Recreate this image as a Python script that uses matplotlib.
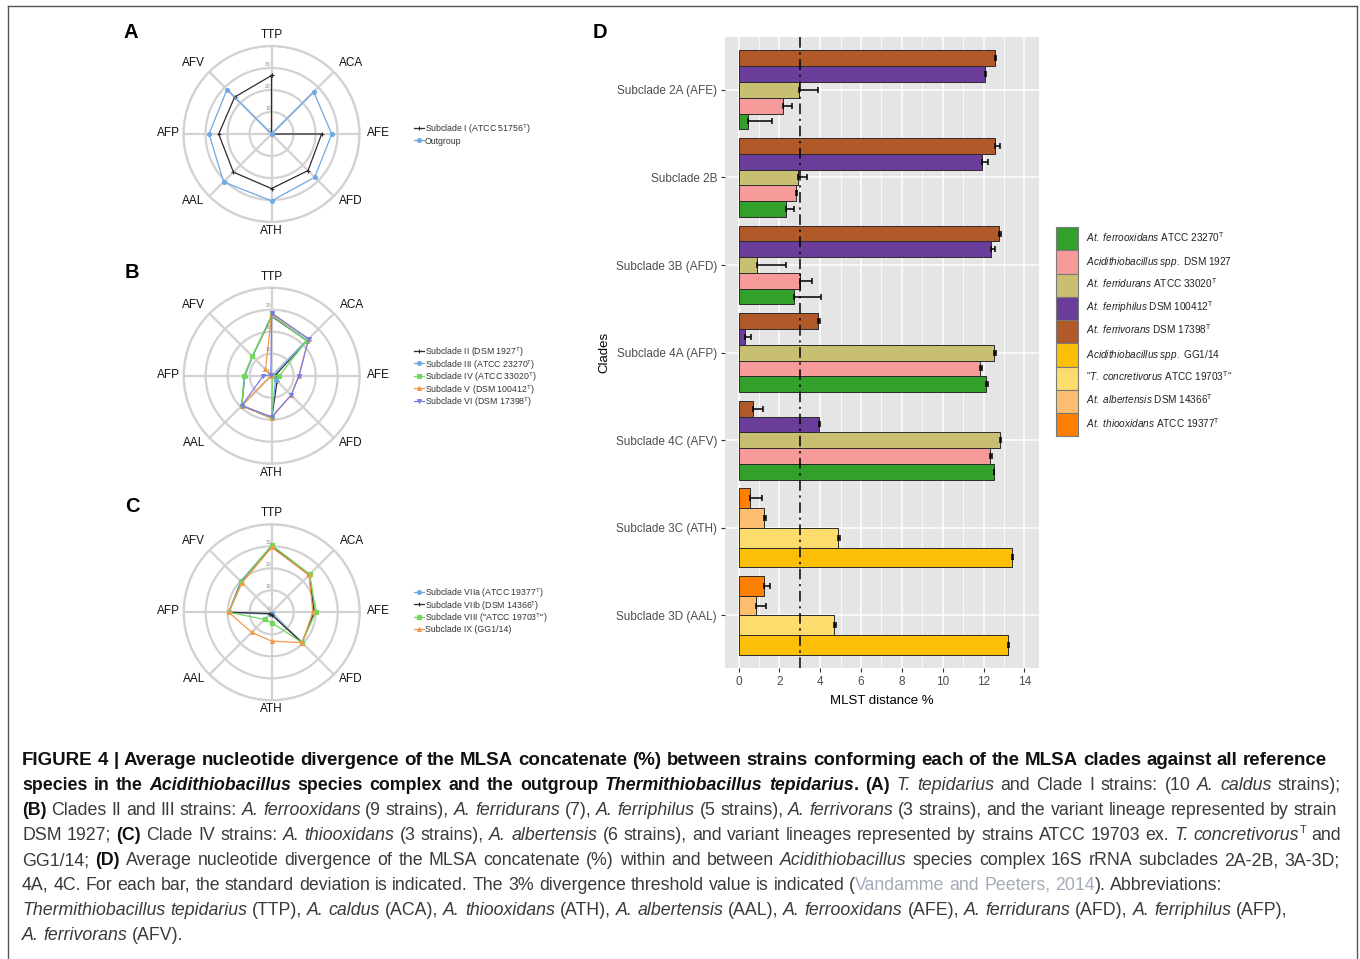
import numpy as np
import matplotlib
matplotlib.use('Agg')
import matplotlib.pyplot as plt
from matplotlib.patches import Patch
from matplotlib.lines import Line2D

plt.rcParams['font.family'] = 'Liberation Sans'
plt.rcParams['mathtext.fontset'] = 'custom'
plt.rcParams['mathtext.rm'] = 'Liberation Sans'
plt.rcParams['mathtext.it'] = 'Liberation Sans:italic'
plt.rcParams['mathtext.bf'] = 'Liberation Sans:bold'

# ---------------- radar data (order of spokes, clockwise from top) ----------------
spokes = ['TTP', 'ACA', 'AFE', 'AFD', 'ATH', 'AAL', 'AFP', 'AFV']

# panel A
a_labels = [r'Subclade I (ATCC 51756$^{\mathrm{T}}$)', 'Outgroup']
a_subclade_1 = [26.6, 0.0, 22.8, 23.5, 24.8, 24.5, 24.0, 23.7]
a_outgroup = [0.0, 27.1, 27.4, 27.8, 30.4, 30.8, 28.4, 28.6]

# panel B
b_labels = [r'Subclade II (DSM 1927$^{\mathrm{T}}$)', r'Subclade III (ATCC 23270$^{\mathrm{T}}$)',
            r'Subclade IV (ATCC 33020$^{\mathrm{T}}$)', r'Subclade V (DSM 100412$^{\mathrm{T}}$)',
            r'Subclade VI (DSM 17398$^{\mathrm{T}}$)']
b_subclade_2 = [27.0, 22.6, 1.5, 3.5, 19.3, 19.2, 12.3, 12.4]
b_subclade_3 = [27.3, 22.8, 0.5, 2.5, 19.3, 19.2, 12.2, 12.4]
b_subclade_4 = [27.5, 22.4, 3.5, 0.4, 19.2, 19.2, 12.6, 12.5]
b_subclade_5 = [28.0, 23.7, 12.3, 12.4, 19.2, 19.3, 0.5, 4.0]
b_subclade_6 = [28.5, 23.7, 12.5, 12.5, 18.7, 19.2, 3.8, 0.5]

# panel C
c_labels = [r'Subclade VIIa (ATCC 19377$^{\mathrm{T}}$)', r'Subclade VIIb (DSM 14366$^{\mathrm{T}}$)',
            r'Subclade VIII ("ATCC 19703$^{\mathrm{T}}$")', 'Subclade IX (GG1/14)']
c_subclade_7a = [30.3, 24.3, 19.5, 19.5, 0.5, 1.2, 19.5, 20.0]
c_subclade_7b = [30.0, 24.0, 19.3, 19.5, 1.2, 0.8, 19.5, 19.5]
c_subclade_8 = [30.5, 24.5, 20.0, 19.5, 4.7, 4.6, 19.5, 19.5]
c_subclade_9 = [29.5, 24.0, 18.7, 19.5, 13.1, 12.9, 19.5, 19.0]

# ---------------- bar chart data (panel D) ----------------
clades = ['Subclade 2A (AFE)', 'Subclade 2B', 'Subclade 3B (AFD)', 'Subclade 4A (AFP)',
          'Subclade 4C (AFV)', 'Subclade 3C (ATH)', 'Subclade 3D (AAL)']

# first five clades
ferrooxidans_mean = [0.44, 2.34, 2.69, 12.13, 12.51]
ferrooxidans_sd = [1.18, 0.38, 1.36, 0.08, 0.02]
dsm1927_mean = [2.15, 2.80, 3.03, 11.84, 12.33]
dsm1927_sd = [0.44, 0.05, 0.54, 0.08, 0.08]
ferridurans_mean = [2.98, 2.93, 0.92, 12.53, 12.82]
ferridurans_sd = [0.92, 0.40, 1.41, 0.08, 0.02]
ferriphilus_mean = [12.05, 11.95, 12.35, 0.33, 3.93]
ferriphilus_sd = [0.06, 0.28, 0.20, 0.26, 0.06]
ferrivorans_mean = [12.54, 12.56, 12.74, 3.90, 0.69]
ferrivorans_sd = [0.08, 0.25, 0.12, 0.07, 0.52]
# last two clades
gg114_mean = [13.38, 13.22]
gg114_sd = [0.07, 0.02]
concretivorus_mean = [4.87, 4.69]
concretivorus_sd = [0.10, 0.10]
albertensis_mean = [1.23, 0.85]
albertensis_sd = [0.10, 0.48]
thiooxidans_mean = [0.56, 1.26]
thiooxidans_sd = [0.57, 0.26]

threshold = 3.0

legend_labels = [
    r'$\mathit{At.\;ferrooxidans}$ ATCC 23270$^{\mathrm{T}}$',
    r'$\mathit{Acidithiobacillus\;spp.}$ DSM 1927',
    r'$\mathit{At.\;ferridurans}$ ATCC 33020$^{\mathrm{T}}$',
    r'$\mathit{At.\;ferriphilus}$ DSM 100412$^{\mathrm{T}}$',
    r'$\mathit{At.\;ferrivorans}$ DSM 17398$^{\mathrm{T}}$',
    r'$\mathit{Acidithiobacillus\;spp.}$ GG1/14',
    r'"$\mathit{T.\;concretivorus}$ ATCC 19703$^{\mathrm{T}}$"',
    r'$\mathit{At.\;albertensis}$ DSM 14366$^{\mathrm{T}}$',
    r'$\mathit{At.\;thiooxidans}$ ATCC 19377$^{\mathrm{T}}$',
]
legend_colors = ['#33a02c', '#f79a9a', '#c9bf72', '#6a3d9a', '#b15928',
                 '#fbbf07', '#fddc6e', '#fdbf6f', '#ff7f00']

W, H = 1360, 959
fig = plt.figure(figsize=(W / 100, H / 100), dpi=100)


def px_rect(x0, y0, w, h):
    return [x0 / W, 1 - (y0 + h) / H, w / W, h / H]


# frame around the figure
frame_kw = dict(color='#555555', lw=1.0, transform=fig.transFigure)
fig.add_artist(Line2D([8 / W, 8 / W], [0, 1 - 6 / H], **frame_kw))
fig.add_artist(Line2D([8 / W, 1356.5 / W], [1 - 6 / H, 1 - 6 / H], **frame_kw))
fig.add_artist(Line2D([1356.5 / W, 1356.5 / W], [0, 1 - 6 / H], **frame_kw))

# ---------------- radar panels ----------------
# label offsets from the centre, in pixels
label_dx = [0, 80, 107, 79, 0, -78, -103, -78]
label_dy = [-99, -71, -1, 67, 97, 67, -1, -71]
theta = np.deg2rad(np.arange(8) * 45)
theta_closed = np.append(theta, theta[0])


def radar(cx, cy, series, labels, colors, markers, leg_y):
    R = 88
    ax = fig.add_axes(px_rect(cx - R, cy - R, 2 * R, 2 * R), projection='polar')
    ax.set_theta_zero_location('N')
    ax.set_theta_direction(-1)
    ax.set_ylim(0, 40)
    ax.set_thetagrids(np.arange(8) * 45, [''] * 8)
    ax.set_rgrids([10, 20, 30, 40], [''] * 4)
    ax.grid(color='#d2d2d2', lw=1.6)
    ax.spines['polar'].set_color('#d2d2d2')
    ax.spines['polar'].set_linewidth(1.6)
    ax.set_facecolor('none')
    for name, dx, dy in zip(spokes, label_dx, label_dy):
        ax.text(0.5 + dx / (2 * R), 0.5 - dy / (2 * R), name, transform=ax.transAxes,
                ha='center', va='center', fontsize=8.5, color='#111111')
    for v in [0, 10, 20, 30]:
        ax.annotate(str(v), (0, v), xytext=(-0.5, 1.0), textcoords='offset points',
                    ha='right', va='bottom', fontsize=3.6, color='#8a8a8a')
    for vals, lab, col, mk, ly in zip(series, labels, colors, markers, leg_y):
        ax.plot(theta_closed, np.append(vals, vals[0]), color=col, lw=0.9,
                marker=mk, ms=2.8, mew=0.8, clip_on=False)
        # hand-placed legend entry
        fig.add_artist(Line2D([414 / W, 423.5 / W], [1 - ly / H] * 2, color=col, lw=0.9,
                              transform=fig.transFigure))
        fig.add_artist(Line2D([418.7 / W], [1 - ly / H], color=col, marker=mk, ms=2.8, mew=0.8,
                              transform=fig.transFigure))
        fig.text(425 / W, 1 - ly / H, lab, ha='left', va='center_baseline', fontsize=6.3,
                 color='#333333')
    return ax


radar(271.5, 134, [a_subclade_1, a_outgroup], a_labels, ['#2b2b2b', '#6fa8e6'], ['+', 'o'],
      [127.5, 140])
radar(271.7, 375.7, [b_subclade_2, b_subclade_3, b_subclade_4, b_subclade_5, b_subclade_6], b_labels,
      ['#2b2b2b', '#6fa8e6', '#72d85c', '#f59a4a', '#7b7bea'], ['+', 'o', 's', '^', 'v'],
      [350.5, 363, 375.5, 388, 400.5])
radar(271.7, 612.3, [c_subclade_7a, c_subclade_7b, c_subclade_8, c_subclade_9], c_labels,
      ['#6fa8e6', '#2b2b2b', '#72d85c', '#f59a4a'], ['o', '+', 's', '^'],
      [591.5, 604, 616.5, 629])

# ---------------- bar chart ----------------
ax = fig.add_axes(px_rect(725, 37.3, 314, 630.7))
ax.set_facecolor('#e5e5e5')
ypos = 7 - np.arange(len(clades))

five = [(ferrooxidans_mean, ferrooxidans_sd, legend_colors[0]),
        (dsm1927_mean, dsm1927_sd, legend_colors[1]),
        (ferridurans_mean, ferridurans_sd, legend_colors[2]),
        (ferriphilus_mean, ferriphilus_sd, legend_colors[3]),
        (ferrivorans_mean, ferrivorans_sd, legend_colors[4])]
four = [(gg114_mean, gg114_sd, legend_colors[5]),
        (concretivorus_mean, concretivorus_sd, legend_colors[6]),
        (albertensis_mean, albertensis_sd, legend_colors[7]),
        (thiooxidans_mean, thiooxidans_sd, legend_colors[8])]


def dodge(groups, ys):
    n = len(groups)
    h = 0.9 / n
    for k, (mean, sd, col) in enumerate(groups):
        yy = ys - 0.45 + h * (k + 0.5)
        ax.barh(yy, mean, height=h, color=col, edgecolor='#2a2a2a', lw=0.7, zorder=3)
        ax.errorbar(mean, yy, xerr=[np.zeros(len(sd)), sd], fmt='none', ecolor='black',
                    elinewidth=1.1, capsize=2.3, capthick=1.1, zorder=4)


dodge(five, ypos[:5])
dodge(four, ypos[5:])
ax.axvline(threshold, color='black', lw=1.1, ls=(0, (7, 3, 1.5, 3)), zorder=5)

ax.set_xlim(-0.67, 14.72)
ax.set_ylim(0.4, 7.6)
ax.set_xticks(np.arange(0, 15, 2))
ax.set_xticks(np.arange(1, 15, 2), minor=True)
ax.set_yticks(ypos)
ax.set_yticklabels(clades)
ax.grid(which='major', color='white', lw=1.1, zorder=0)
ax.grid(which='minor', axis='x', color='white', lw=0.55, zorder=0)
ax.set_axisbelow(True)
for s in ax.spines.values():
    s.set_visible(False)
ax.tick_params(which='major', length=3.2, width=0.8, color='#333333', labelcolor='#4d4d4d',
               labelsize=8.5, pad=2.5)
ax.tick_params(which='minor', length=0)
ax.set_xlabel('MLST distance %', fontsize=9.5, labelpad=5)
ax.set_ylabel('Clades', fontsize=9.5, labelpad=4)

handles = [Patch(facecolor=c, edgecolor='#7a7a7a', lw=0.8) for c in legend_colors]
fig.legend(handles=handles, labels=legend_labels, loc='upper left',
           bbox_to_anchor=(1055.5 / W, 1 - 227 / H), fontsize=7.2, frameon=False,
           handlelength=2.2, handleheight=3.2, labelspacing=0.0, handletextpad=0.8,
           borderpad=0, borderaxespad=0, labelcolor='#222222')

# panel letters
for letter, (lx, ly) in zip('ABCD', [(131, 32), (132, 272), (132, 507), (600, 32)]):
    fig.text(lx / W, 1 - ly / H, letter, ha='center', va='center', fontsize=14.5, fontweight='bold')

# ---------------- caption ----------------
cap_font = 'Liberation Sans'

caption = [
    [('FIGURE 4 | Average nucleotide divergence of the MLSA concatenate (%) between strains conforming each of the MLSA clades against all reference', 'b')],
    [('species in the ', 'b'), ('Acidithiobacillus', 'bi'), (' species complex and the outgroup ', 'b'),
     ('Thermithiobacillus tepidarius', 'bi'), ('. (A) ', 'b'), ('T. tepidarius', 'i'),
     (' and Clade I strains: (10 ', 'r'), ('A. caldus', 'i'), (' strains);', 'r')],
    [('(B)', 'b'), (' Clades II and III strains: ', 'r'), ('A. ferrooxidans', 'i'), (' (9 strains), ', 'r'),
     ('A. ferridurans', 'i'), (' (7), ', 'r'), ('A. ferriphilus', 'i'), (' (5 strains), ', 'r'),
     ('A. ferrivorans', 'i'), (' (3 strains), and the variant lineage represented by strain', 'r')],
    [('DSM 1927; ', 'r'), ('(C)', 'b'), (' Clade IV strains: ', 'r'), ('A. thiooxidans', 'i'),
     (' (3 strains), ', 'r'), ('A. albertensis', 'i'),
     (' (6 strains), and variant lineages represented by strains ATCC 19703 ex. ', 'r'),
     ('T. concretivorus', 'i'), ('T', 'sup'), (' and', 'r')],
    [('GG1/14; ', 'r'), ('(D)', 'b'),
     (' Average nucleotide divergence of the MLSA concatenate (%) within and between ', 'r'),
     ('Acidithiobacillus', 'i'), (' species complex 16S rRNA subclades 2A-2B, 3A-3D;', 'r')],
    [('4A, 4C. For each bar, the standard deviation is indicated. The 3% divergence threshold value is indicated (', 'r'),
     ('Vandamme and Peeters, 2014', 'link'), ('). Abbreviations:', 'r')],
    [('Thermithiobacillus tepidarius', 'i'), (' (TTP), ', 'r'), ('A. caldus', 'i'), (' (ACA), ', 'r'),
     ('A. thiooxidans', 'i'), (' (ATH), ', 'r'), ('A. albertensis', 'i'), (' (AAL), ', 'r'),
     ('A. ferrooxidans', 'i'), (' (AFE), ', 'r'), ('A. ferridurans', 'i'), (' (AFD), ', 'r'),
     ('A. ferriphilus', 'i'), (' (AFP),', 'r')],
    [('A. ferrivorans', 'i'), (' (AFV).', 'r')],
]
# right end of each line (justified ones) or the widest it may grow (ragged ones)
line_right = [1327, 1341, 1337, 1341, 1340, 1325, 1325, None]
justified = [True, True, True, True, True, False, False, False]
styles = {
    'b': dict(fontweight='bold', color='#111111'),
    'bi': dict(fontweight='bold', fontstyle='italic', color='#111111'),
    'r': dict(color='#3a3a3a'),
    'i': dict(fontstyle='italic', color='#3a3a3a'),
    'sup': dict(color='#3a3a3a'),
    'link': dict(color='#a4abb8'),
}
renderer = fig.canvas.get_renderer()
x0 = 22


def split_pieces(segs):
    pieces, space = [], False
    for txt, st in segs:
        for k, p in enumerate(txt.split(' ')):
            if k > 0:
                space = True
            if p:
                pieces.append((p, st, space))
                space = False
    return pieces


def make_texts(pieces, fs):
    arts = []
    for p, st, sp in pieces:
        size = fs * 0.62 if st == 'sup' else fs
        t = fig.text(0, 0, p, fontsize=size, family=cap_font, va='baseline', ha='left', **styles[st])
        arts.append(t)
    return arts


def space_width(fs):
    t1 = fig.text(0, 0, 'a a', fontsize=fs, family=cap_font)
    t2 = fig.text(0, 0, 'aa', fontsize=fs, family=cap_font)
    w = t1.get_window_extent(renderer).width - t2.get_window_extent(renderer).width
    t1.remove()
    t2.remove()
    return w


def measure(pieces, fs):
    arts = make_texts(pieces, fs)
    ws = [t.get_window_extent(renderer).width for t in arts]
    for t in arts:
        t.remove()
    nsp = sum(1 for _, _, sp in pieces[1:] if sp)
    return ws, nsp


# largest size at which every line fits its reference width
probe = 13.0
fits = []
for i, segs in enumerate(caption):
    if line_right[i] is None:
        continue
    ws, nsp = measure(split_pieces(segs), probe)
    fits.append(probe * (line_right[i] - x0) / (sum(ws) + nsp * space_width(probe)))
reg_fs = min(fits[1:])
bold_fs = min(reg_fs * 1.06, fits[0])

for i, segs in enumerate(caption):
    pieces = split_pieces(segs)
    fs = bold_fs if i == 0 else reg_fs
    sw = space_width(fs)
    arts = make_texts(pieces, fs)
    ws = [t.get_window_extent(renderer).width for t in arts]
    nsp = sum(1 for _, _, sp in pieces[1:] if sp)
    if justified[i] and nsp > 0:
        gap = (line_right[i] - x0 - sum(ws)) / nsp
    else:
        gap = sw
    yb = 765 + 25 * i
    x = x0
    for k, (t, (p, st, sp)) in enumerate(zip(arts, pieces)):
        if k > 0 and sp:
            x += gap
        raise_px = 7 if st == 'sup' else 0
        t.set_position((x / W, 1 - (yb - raise_px) / H))
        x += ws[k]

fig.savefig('out.png', dpi=100)
